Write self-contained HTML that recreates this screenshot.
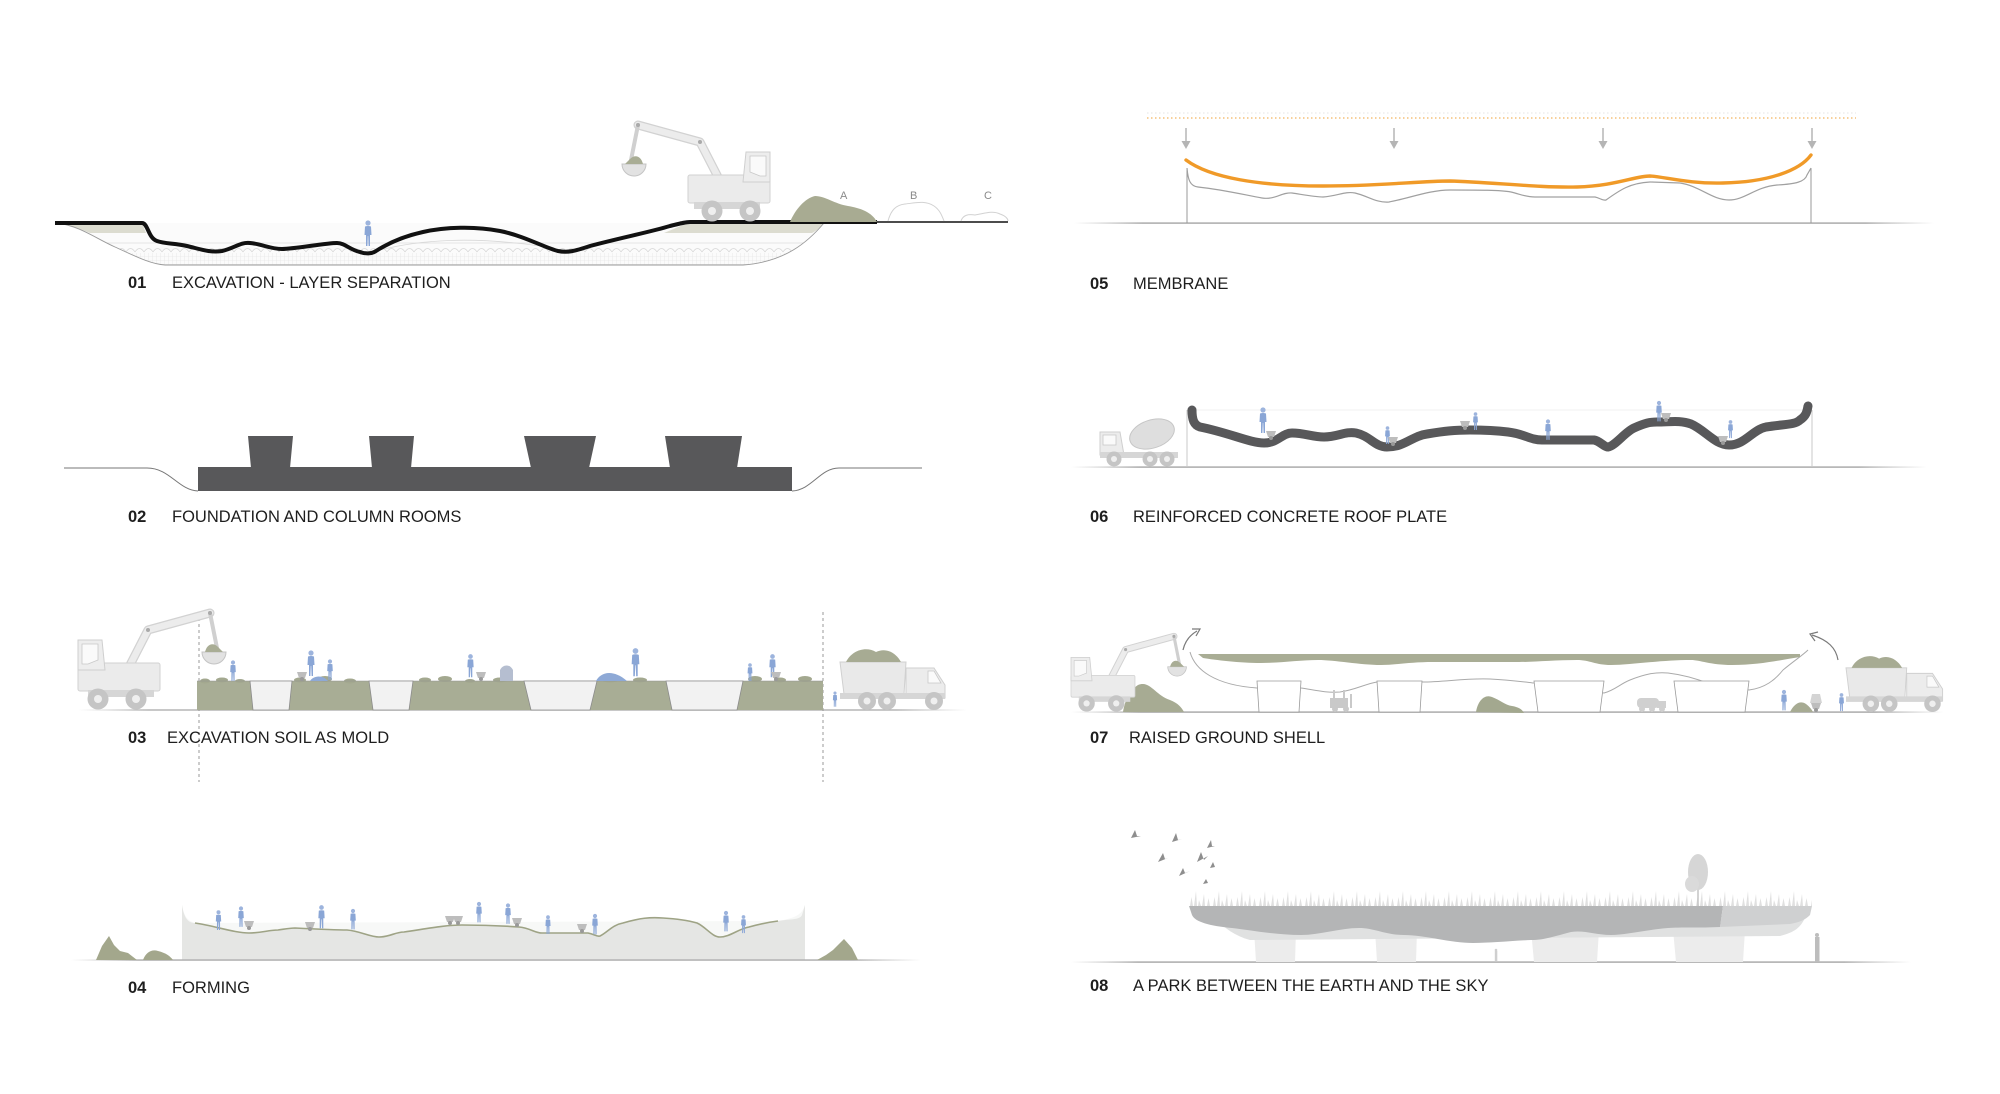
<!DOCTYPE html>
<html><head><meta charset="utf-8"><style>
html,body{margin:0;padding:0;background:#fff;}
svg{display:block;}
.lb{font-family:"Liberation Sans",Arial,sans-serif;font-size:16.5px;fill:#1e1e1e;}
.nb{font-family:"Liberation Sans",Arial,sans-serif;font-size:16.5px;font-weight:bold;fill:#1e1e1e;}
.abc{font-family:"Liberation Sans",Arial,sans-serif;font-size:11px;fill:#8a8a8a;}
</style></head><body>
<svg width="2000" height="1094" viewBox="0 0 2000 1094" xmlns="http://www.w3.org/2000/svg">
<defs>
<linearGradient id="gl" x1="0" x2="1" y1="0" y2="0">
<stop offset="0" stop-color="#bbb" stop-opacity="0"/>
<stop offset="0.08" stop-color="#b0b0b0"/>
<stop offset="0.92" stop-color="#b0b0b0"/>
<stop offset="1" stop-color="#bbb" stop-opacity="0"/>
</linearGradient>
<pattern id="sc" width="9" height="10" patternUnits="userSpaceOnUse" x="0" y="243"><path d="M0,9 Q4.5,2 9,9" fill="none" stroke="#d6d6d6" stroke-width="0.7"/></pattern>
<pattern id="gr" width="4" height="4" patternUnits="userSpaceOnUse"><path d="M0,0 H4 M0,0 V4" stroke="#e0e0e0" stroke-width="0.6"/></pattern>
<pattern id="gs" width="23" height="20" patternUnits="userSpaceOnUse" x="1189" y="886"><path d="M1,20 L2.5,11 L4,20 Z M5,20 L7,5 L8,20 Z M9,20 L10,14 L12,20 Z M13,20 L15,8 L16,20 Z M18,20 L19.5,12 L21,20 Z" fill="#cbcbcb"/></pattern>
<clipPath id="exv"><path d="M57,223 C80,226 95,238 115,247 C135,256 150,264 165,265 L743,265 C785,262 808,242 824,223 Z"/></clipPath>
<symbol id="p" viewBox="0 0 10 26"><circle cx="5" cy="3" r="2.6" fill="#9db4dd"/><path d="M2,6.5 Q5,5.5 8,6.5 L8.5,15 L7,15 L7,26 L5.6,26 L5.2,16 L4.8,16 L4.4,26 L3,26 L3,15 L1.5,15 Z" fill="#8aa6d6"/></symbol>
<g id="exc">
<path d="M52,-45 L70,-80 L132,-97" fill="none" stroke="#d2d2d2" stroke-width="9" stroke-linecap="round" stroke-linejoin="round"/>
<path d="M52,-45 L70,-80 L132,-97" fill="none" stroke="#ececec" stroke-width="6.5" stroke-linecap="round" stroke-linejoin="round"/>
<path d="M132,-97 L139,-62" fill="none" stroke="#d0d0d0" stroke-width="4" stroke-linecap="round"/>
<circle cx="70" cy="-80" r="2" fill="#aaa"/><circle cx="132" cy="-97" r="2" fill="#aaa"/>
<path d="M124,-58 A12,12 0 0 0 148,-58 Z" fill="#e2e2e2" stroke="#c4c4c4" stroke-width="1"/>
<path d="M127,-58 C129,-66 135,-68 140,-63 L145,-58 Z" fill="#a9ad95"/>
<rect x="0" y="-47" width="82" height="28" rx="2" fill="#ebebeb" stroke="#d2d2d2"/>
<path d="M0,-70 L24,-70 L27,-40 L0,-40 Z" fill="#ededed" stroke="#cfcfcf"/>
<path d="M4,-66 L20,-66 L20,-50 L10,-46 L4,-46 Z" fill="#fafafa" stroke="#c8c8c8" stroke-width="0.8"/>
<rect x="10" y="-20" width="66" height="7" fill="#d6d6d6"/>
<circle cx="20" cy="-11" r="10.5" fill="#c5c5c5"/><circle cx="20" cy="-11" r="4" fill="#efefef"/>
<circle cx="58" cy="-11" r="10.5" fill="#c5c5c5"/><circle cx="58" cy="-11" r="4" fill="#efefef"/>
</g>
<g id="trk">
<path d="M0,-48 L66,-48 L64,-16 L4,-16 Z" fill="#e9e9e9" stroke="#d0d0d0"/>
<path d="M6,-48 C12,-60 26,-64 36,-58 C46,-63 56,-57 61,-48 Z" fill="#a7ab93"/>
<path d="M66,-42 L94,-42 L105,-25 L105,-12 L66,-12 Z" fill="#ececec" stroke="#cfcfcf"/>
<path d="M88,-39 L94,-39 L101,-27 L88,-27 Z" fill="#fafafa" stroke="#c8c8c8" stroke-width="0.8"/>
<rect x="0" y="-17" width="105" height="6" fill="#d6d6d6"/>
<circle cx="27" cy="-9" r="9" fill="#c5c5c5"/><circle cx="27" cy="-9" r="3.5" fill="#efefef"/>
<circle cx="47" cy="-9" r="9" fill="#c5c5c5"/><circle cx="47" cy="-9" r="3.5" fill="#efefef"/>
<circle cx="94" cy="-9" r="9" fill="#c5c5c5"/><circle cx="94" cy="-9" r="3.5" fill="#efefef"/>
</g>
<g id="cart"><path d="M-5,-9 L5,-9 L3,-3 L-3,-3 Z" fill="#bdbdbd"/><circle cx="0" cy="-2" r="2" fill="#999"/></g>
</defs>

<!-- ============ PANEL 01 ============ -->
<path d="M57,223 C80,226 95,238 115,247 C135,256 150,264 165,265 L743,265 C785,262 808,242 824,223 Z" fill="#fbfbfb"/>
<g clip-path="url(#exv)">
<rect x="55" y="243" width="800" height="10" fill="url(#sc)"/>
<rect x="55" y="253" width="800" height="12" fill="url(#gr)"/>
<line x1="55" y1="243" x2="830" y2="243" stroke="#dcdcdc" stroke-width="0.7"/>
</g>
<path d="M57,223 L142,223 L146,233 L90,233 C80,229 70,225 57,223 Z" fill="#dcdcd0"/>
<path d="M690,222 L824,222 C820,228 816,231 812,233 L664,233 Z" fill="#dcdcd0"/>
<path d="M57,223 C80,226 95,238 115,247 C135,256 150,264 165,265 L743,265 C785,262 808,242 824,223" fill="none" stroke="#9a9a9a" stroke-width="0.9"/>
<path d="M380,250 C420,240 470,236 540,246" fill="none" stroke="#d8d8d8" stroke-width="0.8"/>
<use href="#p" x="363" y="213" width="10" height="40"/>
<path d="M55,223 L142,223 C148,223 148,238 157,241 C165,244 175,243 187,246 C200,249 210,253 222,251 C235,248 240,242 250,243 C262,244 270,249 282,249 C295,249 325,243 337,243 C345,243 350,250 360,252 C365,254 372,254 376,251 C390,242 405,236 423,232 C445,227 475,226 500,231 C525,236 545,248 558,251 C568,253 575,251 590,246 C620,238 650,232 670,226 C682,223 686,222 690,222 L877,222" fill="none" stroke="#111" stroke-width="4" stroke-linejoin="round"/>
<line x1="877" y1="222" x2="1008" y2="222" stroke="#333" stroke-width="1.8"/>
<use href="#exc" transform="translate(770,222) scale(-1,1)"/>
<path d="M790,222 C795,210 805,198 815,196 C825,196 835,204 848,206 C860,208 872,212 877,222 Z" fill="#a8ab92"/>
<path d="M888,221 C891,210 896,205 905,204 C915,203 925,200 934,206 C940,210 942,216 944,221" fill="none" stroke="#d2d2d2" stroke-width="1"/>
<path d="M961,221 C963,215 968,214 975,215 C983,214 992,210 1000,214 C1006,216 1008,219 1008,221" fill="none" stroke="#d2d2d2" stroke-width="1"/>
<text class="abc" x="840" y="199">A</text>
<text class="abc" x="910" y="199">B</text>
<text class="abc" x="984" y="199">C</text>
<text class="nb" x="128" y="288">01</text>
<text class="lb" x="172" y="288">EXCAVATION - LAYER SEPARATION</text>

<!-- ============ PANEL 02 ============ -->
<path d="M64,468 L147,468 C170,468 178,490 198,491" fill="none" stroke="#777" stroke-width="1"/>
<path d="M792,491 C812,490 820,468 839,468 L922,468" fill="none" stroke="#777" stroke-width="1"/>
<g fill="#58585a">
<rect x="198" y="467" width="594" height="24"/>
<path d="M248,436 L293,436 L290,468 L251,468 Z"/>
<path d="M369,436 L414,436 L411,468 L372,468 Z"/>
<path d="M524,436 L596,436 L589,468 L531,468 Z"/>
<path d="M665,436 L742,436 L737,468 L670,468 Z"/>
</g>
<text class="nb" x="128" y="522">02</text>
<text class="lb" x="172" y="522">FOUNDATION AND COLUMN ROOMS</text>

<!-- ============ PANEL 03 ============ -->
<rect x="78" y="709.3" width="889" height="1.4" fill="url(#gl)"/>
<line x1="199" y1="612" x2="199" y2="782" stroke="#999" stroke-width="1" stroke-dasharray="3,3"/>
<line x1="823" y1="612" x2="823" y2="782" stroke="#999" stroke-width="1" stroke-dasharray="3,3"/>
<rect x="197" y="681" width="626" height="29" fill="#a8ad95"/>
<g fill="#a3a88f">
<ellipse cx="205" cy="681" rx="5" ry="2.5"/><ellipse cx="222" cy="680" rx="6" ry="2.5"/><ellipse cx="240" cy="681" rx="5" ry="2"/>
<ellipse cx="300" cy="680" rx="6" ry="2.5"/><ellipse cx="325" cy="679" rx="7" ry="3"/><ellipse cx="350" cy="681" rx="6" ry="2.5"/>
<ellipse cx="425" cy="680" rx="6" ry="2.5"/><ellipse cx="445" cy="679" rx="7" ry="3"/><ellipse cx="470" cy="681" rx="5" ry="2"/><ellipse cx="500" cy="680" rx="7" ry="2.5"/>
<ellipse cx="610" cy="680" rx="8" ry="2.5"/><ellipse cx="640" cy="680" rx="7" ry="2.5"/>
<ellipse cx="755" cy="679" rx="7" ry="3"/><ellipse cx="780" cy="680" rx="6" ry="2.5"/><ellipse cx="805" cy="679" rx="7" ry="3"/>
</g>
<line x1="197" y1="681" x2="823" y2="681" stroke="#8f8f8f" stroke-width="0.6"/>
<g fill="#f2f2f2" stroke="#8c8c8c" stroke-width="0.8">
<path d="M250,681 L292,681 L289,710 L253,710 Z"/>
<path d="M369,681 L413,681 L409,710 L373,710 Z"/>
<path d="M524,681 L597,681 L590,710 L531,710 Z"/>
<path d="M666,681 L743,681 L737,710 L672,710 Z"/>
</g>
<path d="M596,681 C600,673 612,668 627,681 Z" fill="#8ea9d6"/>
<use href="#p" x="229" y="660" width="8" height="21"/>
<use href="#p" x="306" y="645" width="10" height="36"/>
<use href="#p" x="326" y="658" width="8" height="23"/>
<use href="#p" x="466" y="650" width="9" height="31"/>
<use href="#p" x="630" y="643" width="11" height="38"/>
<use href="#p" x="746" y="663" width="8" height="18"/>
<use href="#p" x="768" y="650" width="9" height="31"/>
<use href="#p" x="832" y="688" width="6" height="22"/>
<use href="#cart" x="302" y="681"/><use href="#cart" x="481" y="681"/><use href="#cart" x="776" y="681"/>
<path d="M500,681 L500,670 C503,664 510,664 513,670 L513,681 Z" fill="#b5bed0"/>
<path d="M310,681 C313,676 322,674 328,681 Z" fill="#8ea9d6"/>
<use href="#exc" transform="translate(78,710)"/>
<use href="#trk" transform="translate(840,710)"/>
<text class="nb" x="128" y="743">03</text>
<text class="lb" x="167" y="743">EXCAVATION SOIL AS MOLD</text>

<!-- ============ PANEL 04 ============ -->
<path d="M182,960 L182,905 C184,915 186,920 195,923 L778,921 C795,918 802,915 805,905 L805,960 Z" fill="#f7f8f7"/>
<path d="M182,905 C184,918 188,923 195,923 C215,926 235,933 249,933 C262,933 268,930 278,930 C285,929 290,928 295,928 C315,929 335,930 347,930 C360,931 370,937 379,937 C390,937 395,932 404,932 C425,929 445,925 462,925 C490,925 505,926 519,927 C530,928 535,933 542,933 L588,933 C594,934 597,937 600,936 C608,932 612,925 623,923 C640,918 650,917 663,918 C680,919 690,921 697,923 C706,927 712,937 720,937 C730,937 738,929 749,927 C760,924 770,922 778,921 C790,919 800,920 802,915 L805,905 L805,960 L182,960 Z" fill="#e5e6e4"/>
<path d="M195,923 C215,926 235,933 249,933 C262,933 268,930 278,930 C285,929 290,928 295,928 C315,929 335,930 347,930 C360,931 370,937 379,937 C390,937 395,932 404,932 C425,929 445,925 462,925 C490,925 505,926 519,927 C530,928 535,933 542,933 L588,933 C594,934 597,937 600,936 C608,932 612,925 623,923 C640,918 650,917 663,918 C680,919 690,921 697,923 C706,927 712,937 720,937 C730,937 738,929 749,927 C760,924 770,922 778,921" fill="none" stroke="#9ea385" stroke-width="1.6"/>
<rect x="71" y="959.3" width="850" height="1.5" fill="url(#gl)"/>
<path d="M96,960 L102,946 L109,936 L114,945 L120,951 L128,953 L137,960 Z" fill="#a3a78c"/>
<path d="M143,960 C146,952 152,949 158,951 C166,953 170,956 173,960 Z" fill="#a3a78c"/>
<path d="M817,960 L826,955 L833,950 L844,939 L852,948 L858,960 Z" fill="#a3a78c"/>
<use href="#p" x="214" y="910" width="9" height="20"/>
<use href="#p" x="237" y="903" width="8" height="27"/>
<use href="#p" x="317" y="903" width="9" height="27"/>
<use href="#p" x="349" y="908" width="8" height="22"/>
<use href="#p" x="475" y="899" width="8" height="26"/>
<use href="#p" x="504" y="901" width="8" height="25"/>
<use href="#p" x="544" y="915" width="8" height="19"/>
<use href="#p" x="591" y="913" width="8" height="22"/>
<use href="#p" x="722" y="907" width="8" height="28"/>
<use href="#p" x="740" y="913" width="7" height="22"/>
<use href="#cart" x="249" y="930"/><use href="#cart" x="310" y="931"/><use href="#cart" x="450" y="925"/><use href="#cart" x="458" y="925"/><use href="#cart" x="517" y="927"/><use href="#cart" x="582" y="933"/>
<text class="nb" x="128" y="993">04</text>
<text class="lb" x="172" y="993">FORMING</text>

<!-- ============ PANEL 05 ============ -->
<line x1="1147" y1="113" x2="1856" y2="113" stroke="#e4e4e4" stroke-width="1" stroke-dasharray="1.5,2.5"/>
<line x1="1147" y1="118" x2="1856" y2="118" stroke="#f2b460" stroke-width="1.3" stroke-dasharray="1.5,2.5"/>
<g stroke="#b5b5b5" stroke-width="1.5" fill="#b5b5b5">
<line x1="1186" y1="128" x2="1186" y2="143"/><path d="M1181.5,141 L1190.5,141 L1186,149 Z" stroke="none"/>
<line x1="1394" y1="128" x2="1394" y2="143"/><path d="M1389.5,141 L1398.5,141 L1394,149 Z" stroke="none"/>
<line x1="1603" y1="128" x2="1603" y2="143"/><path d="M1598.5,141 L1607.5,141 L1603,149 Z" stroke="none"/>
<line x1="1812" y1="128" x2="1812" y2="143"/><path d="M1807.5,141 L1816.5,141 L1812,149 Z" stroke="none"/>
</g>
<rect x="1074" y="222.3" width="860" height="1.6" fill="url(#gl)"/>
<line x1="1187" y1="168" x2="1187" y2="223" stroke="#999" stroke-width="1"/>
<line x1="1811" y1="168" x2="1811" y2="223" stroke="#999" stroke-width="1"/>
<path d="M1187,168 C1188,180 1190,186 1198,187 C1225,190 1245,195 1262,198 C1275,200 1282,192 1292,193 C1305,195 1315,197 1323,197 C1338,196 1345,191 1355,193 C1368,196 1376,203 1389,202 C1410,198 1430,190 1450,190 C1480,190 1500,190 1511,192 C1520,194 1525,197 1535,197 L1595,197 C1600,198 1603,201 1606,200 C1620,190 1630,183 1650,182 L1680,183 C1700,186 1712,200 1729,200 C1745,200 1755,187 1777,185 C1795,184 1805,182 1807,175 L1811,168" fill="none" stroke="#a0a0a0" stroke-width="1.2"/>
<path d="M1186,160 C1210,178 1260,186 1323,186 C1380,186 1420,181 1450,181 C1490,182 1540,188 1577,187 C1615,186 1635,176 1650,176 C1665,177 1690,184 1723,183 C1770,182 1800,170 1811,155" fill="none" stroke="#f09a28" stroke-width="3.4" stroke-linecap="round"/>
<text class="nb" x="1090" y="289">05</text>
<text class="lb" x="1133" y="289">MEMBRANE</text>

<!-- ============ PANEL 06 ============ -->
<line x1="1187" y1="410" x2="1812" y2="410" stroke="#f0f0f0" stroke-width="1"/>
<rect x="1071" y="466.3" width="856" height="1.6" fill="url(#gl)"/>
<line x1="1187" y1="410" x2="1187" y2="467" stroke="#c8c8c8" stroke-width="1"/>
<line x1="1812" y1="410" x2="1812" y2="467" stroke="#c8c8c8" stroke-width="1"/>
<path d="M1192,410 C1192,420 1194,425 1200,427 C1230,433 1250,443 1264,443 C1278,443 1282,433 1292,433 C1305,433 1312,437 1324,437 C1338,437 1345,431 1356,433 C1370,436 1375,447 1387,447 C1405,447 1412,436 1427,434 C1445,431 1455,430 1470,430 C1490,430 1500,431 1508,432 C1525,434 1530,440 1542,440 L1594,440 C1600,441 1604,447 1608,447 C1615,446 1625,432 1634,428 C1645,423 1650,422 1657,422 C1670,422 1680,420 1691,424 C1705,430 1715,445 1729,445 C1745,445 1752,430 1766,427 C1785,424 1795,425 1800,420 C1806,416 1807,412 1808,406" fill="none" stroke="#58585a" stroke-width="9" stroke-linecap="round" stroke-linejoin="round"/>
<!-- mixer truck -->
<g>
<path d="M1100,432 L1120,432 L1124,455 L1100,455 Z" fill="#ececec" stroke="#cfcfcf"/>
<path d="M1103,435 L1116,435 L1116,445 L1103,445 Z" fill="#fafafa" stroke="#c8c8c8" stroke-width="0.8"/>
<ellipse cx="1152" cy="434" rx="23" ry="14" transform="rotate(-18 1152 434)" fill="#dedede" stroke="#c6c6c6"/>
<rect x="1100" y="452" width="78" height="6" fill="#d6d6d6"/>
<circle cx="1114" cy="459" r="7.5" fill="#c5c5c5"/><circle cx="1114" cy="459" r="3" fill="#efefef"/>
<circle cx="1150" cy="459" r="7.5" fill="#c5c5c5"/><circle cx="1150" cy="459" r="3" fill="#efefef"/>
<circle cx="1167" cy="459" r="7.5" fill="#c5c5c5"/><circle cx="1167" cy="459" r="3" fill="#efefef"/>
</g>
<use href="#p" x="1258" y="402" width="10" height="36"/>
<use href="#cart" x="1271" y="440"/>
<use href="#p" x="1384" y="426" width="7" height="18"/>
<use href="#cart" x="1393" y="446"/>
<use href="#p" x="1472" y="412" width="7" height="18"/>
<use href="#cart" x="1465" y="430"/>
<use href="#p" x="1544" y="419" width="8" height="21"/>
<use href="#p" x="1655" y="400" width="8" height="22"/>
<use href="#cart" x="1666" y="422"/>
<use href="#p" x="1727" y="417" width="7" height="24"/>
<use href="#cart" x="1723" y="445"/>
<text class="nb" x="1090" y="522">06</text>
<text class="lb" x="1133" y="522">REINFORCED CONCRETE ROOF PLATE</text>

<!-- ============ PANEL 07 ============ -->
<rect x="1071" y="711.3" width="873" height="1.6" fill="url(#gl)"/>
<path d="M1190,652 C1195,670 1215,685 1257,688 L1301,688 C1315,690 1325,693 1340,692 C1355,690 1365,684 1377,682 L1422,682 C1445,682 1465,678 1490,679 C1510,680 1525,682 1534,683 L1604,693 C1615,690 1620,684 1630,680 C1645,674 1655,672 1668,673 C1685,675 1700,680 1710,684 L1749,690 C1765,688 1775,680 1783,670 C1795,660 1803,655 1808,650" fill="none" stroke="#aaa" stroke-width="1"/>
<g fill="#fff" stroke="#9a9a9a" stroke-width="0.8">
<path d="M1257,681 L1301,681 L1299,712 L1259,712 Z"/>
<path d="M1377,681 L1422,681 L1420,712 L1379,712 Z"/>
<path d="M1534,681 L1604,681 L1600,712 L1538,712 Z"/>
<path d="M1674,681 L1749,681 L1745,712 L1678,712 Z"/>
</g>
<path d="M1198,654 L1800,654 L1800,657 C1780,660 1760,665 1732,665 C1710,665 1700,660 1691,660 C1660,660 1630,665 1611,665 C1595,665 1590,660 1577,660 C1555,660 1535,662 1519,662 L1433,662 C1410,662 1395,665 1381,665 C1360,665 1335,660 1318,660 C1300,660 1280,663 1261,663 C1240,663 1215,660 1203,658 Z" fill="#a9ad95"/>
<path d="M1476,712 C1478,700 1485,694 1492,697 C1500,700 1505,705 1512,706 C1518,707 1522,709 1524,713 Z" fill="#a3a88f"/>
<g fill="#c9c9c9"><rect x="1330" y="698" width="18" height="10"/><rect x="1333" y="690" width="2" height="8"/><rect x="1343" y="690" width="2" height="8"/><rect x="1350" y="694" width="2" height="14"/><circle cx="1335" cy="709" r="3"/><circle cx="1346" cy="709" r="3"/></g>
<g fill="#d0d0d0"><rect x="1637" y="698" width="22" height="10" rx="4"/><rect x="1657" y="701" width="9" height="7"/><circle cx="1642" cy="709" r="3"/><circle cx="1652" cy="709" r="3"/><circle cx="1662" cy="709" r="3"/></g>
<path d="M1123,712 C1125,700 1130,690 1138,685 C1150,680 1155,695 1170,700 C1178,703 1182,708 1184,712 Z" fill="#a7ab93"/>
<use href="#exc" transform="translate(1071,712) scale(0.78)"/>
<use href="#trk" transform="translate(1846,712) scale(0.92)"/>
<path d="M1183,650 C1185,641 1190,635 1197,631" fill="none" stroke="#7a7a7a" stroke-width="1.2"/>
<path d="M1192,629 L1200,629 L1196,636" fill="none" stroke="#7a7a7a" stroke-width="1.2"/>
<path d="M1838,660 C1836,648 1828,640 1812,635" fill="none" stroke="#7a7a7a" stroke-width="1.2"/>
<path d="M1818,632 L1810,634 L1815,641" fill="none" stroke="#7a7a7a" stroke-width="1.2"/>
<path d="M1790,712 C1794,704 1800,700 1806,704 C1810,707 1812,710 1813,712 Z" fill="#a7ab93"/>
<use href="#p" x="1780" y="688" width="8" height="24"/>
<use href="#cart" x="1816" y="712"/>
<path d="M1810,703 L1822,703 L1820,694 L1812,694 Z" fill="#d4d4d4"/>
<use href="#p" x="1838" y="692" width="7" height="20"/>
<text class="nb" x="1090" y="743">07</text>
<text class="lb" x="1129" y="743">RAISED GROUND SHELL</text>

<!-- ============ PANEL 08 ============ -->
<rect x="1071" y="961.3" width="840" height="1.6" fill="url(#gl)"/>
<g fill="#ececec">
<path d="M1254,930 L1296,930 L1295,962 L1256,962 Z"/>
<path d="M1375,930 L1417,930 L1416,962 L1377,962 Z"/>
<path d="M1531,930 L1599,930 L1597,962 L1534,962 Z"/>
<path d="M1673,930 L1745,930 L1743,962 L1676,962 Z"/>
</g>
<path d="M1215,918 L1805,918 C1800,928 1795,932 1780,936 L1250,940 C1235,936 1224,928 1215,918 Z" fill="#e0e1e1"/>
<path d="M1189,906 L1723,906 L1720,927 C1700,928 1680,927 1668,928 C1645,930 1625,935 1611,935 C1595,935 1585,930 1571,932 C1555,936 1545,940 1531,940 C1510,941 1490,943 1473,943 C1450,943 1425,935 1404,935 C1385,935 1375,928 1359,928 C1340,928 1320,935 1301,935 C1275,935 1250,930 1232,928 C1210,926 1195,922 1192,915 Z" fill="#b4b5b6"/>
<path d="M1723,906 L1812,906 L1810,915 C1805,920 1800,922 1790,924 L1720,927 Z" fill="#cfd0d1"/>
<rect x="1189" y="886" width="623" height="20" fill="url(#gs)" opacity="0.6"/>
<line x1="1698" y1="906" x2="1698" y2="858" stroke="#c4c4c4" stroke-width="1.5"/>
<ellipse cx="1698" cy="872" rx="10" ry="18" fill="#d6d6d6"/>
<ellipse cx="1692" cy="884" rx="7" ry="8" fill="#dadada"/>
<g fill="#8e8e8e">
<path d="M1131,838 L1135,830 L1137,836 L1141,836 Z"/>
<path d="M1172,842 L1176,833 L1178,840 L1182,839 Z"/>
<path d="M1207,848 L1211,840 L1212,846 L1215,846 Z"/>
<path d="M1158,862 L1163,853 L1165,859 L1168,858 Z"/>
<path d="M1197,862 L1201,852 L1204,860 L1208,856 Z"/>
<path d="M1210,868 L1213,862 L1215,867 Z"/>
<path d="M1179,876 L1183,868 L1185,873 L1190,871 Z"/>
<path d="M1203,884 L1206,879 L1208,883 Z"/>
</g>
<g fill="#bdbdbd"><circle cx="1817" cy="935" r="2"/><rect x="1815" y="937" width="4.5" height="25"/></g>
<g fill="#cfcfcf"><circle cx="1496" cy="950" r="1.3"/><rect x="1494.8" y="951" width="2.5" height="10"/></g>
<text class="nb" x="1090" y="991">08</text>
<text class="lb" x="1133" y="991">A PARK BETWEEN THE EARTH AND THE SKY</text>
</svg>
</body></html>
